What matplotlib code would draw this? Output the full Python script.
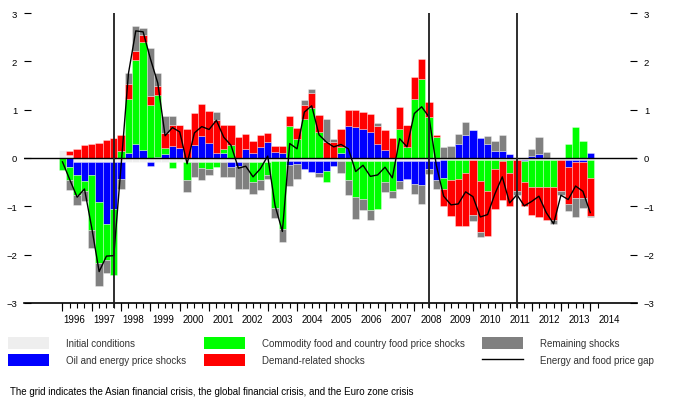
import numpy as np
import matplotlib.pyplot as plt
from matplotlib.patches import Patch
from matplotlib.lines import Line2D

plt.rcParams['font.family'] = ['Liberation Sans', 'DejaVu Sans']

# quarterly contributions, 1996Q1 .. 2014Q1
initial = [0.17, 0.07, -0.08, -0.08, -0.08, -0.08, -0.08, -0.08, -0.08, -0.08,
           -0.08, -0.08, -0.08, -0.08, -0.08, -0.08, -0.08, -0.08, -0.08, -0.08,
           -0.08, -0.08, -0.08, -0.08, -0.08, -0.08, -0.08, -0.08, -0.08, -0.07,
           -0.07, -0.07, -0.07, -0.07, -0.07, -0.07, -0.07, -0.07, -0.07, -0.07,
           -0.07, -0.07, -0.07, -0.07, -0.06, -0.06, -0.06, -0.06, -0.06, -0.06,
           -0.06, -0.06, -0.05, -0.05, -0.05, -0.05, -0.05, -0.05, -0.05, -0.05,
           -0.05, -0.04, -0.04, -0.04, -0.04, -0.04, -0.04, -0.04, -0.04, -0.04,
           -0.04, -0.04, -0.04]
oil = [0, -0.19, -0.28, -0.40, -0.28, -0.83, -1.28, -0.97, -0.35, 0.11,
       0.28, 0.17, -0.08, 0.03, 0.09, 0.24, 0.21, 0, 0.26, 0.46,
       0.31, 0.11, 0.11, -0.10, -0.08, 0.19, 0.11, 0.23, 0.34, 0.12,
       0.11, -0.08, -0.05, -0.15, -0.22, -0.23, -0.19, -0.10, 0.11, 0.67,
       0.65, 0.59, 0.54, 0.30, 0.16, 0, -0.42, -0.38, -0.47, -0.49,
       -0.16, -0.40, -0.36, 0, 0.30, 0.48, 0.57, 0.41, 0.30, 0.14,
       0.14, 0.09, 0, -0.03, 0.05, 0.09, 0, 0, 0, -0.15,
       -0.04, -0.04, 0.10]
food = [-0.25, -0.27, -0.41, -0.21, -1.12, -1.26, -0.76, -1.37, 0.14, 1.12,
        1.74, 2.23, 1.09, 1.27, 0.11, -0.13, 0, -0.37, 0, -0.12,
        -0.15, -0.10, 0.07, 0.26, 0, 0, -0.42, -0.38, -0.28, -0.97,
        -1.40, 0.66, 0.40, 0.80, 1.04, 0.54, -0.24, 0, 0.12, -0.39,
        -0.74, -0.77, -1.01, -0.98, -0.44, -0.63, 0.59, 0.23, 1.23, 1.63,
        0.85, 0.43, -0.23, -0.41, -0.38, -0.27, 0, -0.43, -0.64, -0.17,
        -0.02, -0.28, 0, -0.43, -0.56, -0.56, -0.56, -0.56, 0, 0.28,
        0.65, 0.36, -0.37]
demand = [0, 0.07, 0.18, 0.26, 0.28, 0.32, 0.37, 0.41, 0.34, 0.31,
          0.19, 0.15, 0.19, 0.19, 0.32, 0.44, 0.48, 0.61, 0.67, 0.66,
          0.66, 0.67, 0.51, 0.43, 0.43, 0.31, 0.25, 0.24, 0.18, 0.13,
          0.14, 0.20, 0.22, 0.30, 0.31, 0.36, 0.34, 0.34, 0.36, 0.32,
          0.35, 0.37, 0.37, 0.36, 0.41, 0.42, 0.47, 0.46, 0.45, 0.41,
          0.31, 0.04, -0.35, -0.74, -0.98, -1.09, -1.12, -1.05, -0.93, -0.83,
          -0.79, -0.67, -0.65, -0.49, -0.57, -0.62, -0.69, -0.69, -0.65, -0.76,
          -0.75, -0.75, -0.78]
remaining = [0, -0.21, -0.20, -0.19, -0.38, -0.47, -0.25, 0, -0.21, 0.21,
             0.52, 0.14, 1.00, 0.26, 0.35, 0.19, 0, -0.25, -0.32, -0.26,
             -0.13, 0.17, -0.31, -0.21, -0.48, -0.56, -0.24, -0.20, -0.08, -0.20,
             -0.27, -0.42, -0.31, 0.11, 0.07, -0.09, 0.47, 0.06, -0.23, -0.31,
             -0.45, -0.24, -0.21, 0.06, -0.21, -0.14, -0.17, 0, -0.21, -0.41,
             -0.11, -0.19, 0.23, 0.25, 0.19, 0.27, -0.14, -0.11, 0.16, 0.22,
             0.33, 0, -0.07, 0, 0.14, 0.34, 0.12, -0.07, -0.08, -0.15,
             -0.39, -0.20, -0.03]
price_gap = [-0.08, -0.45, -0.81, -0.64, -1.45, -2.35, -2.03, -2.02, -0.15, 1.75,
             2.63, 2.61, 2.05, 1.55, 0.46, 0.63, 0.54, -0.12, 0.52, 0.65,
             0.59, 0.78, 0.43, 0.26, -0.21, -0.17, -0.39, -0.22, 0.04, -0.98,
             -1.52, 0.30, 0.19, 0.95, 1.08, 0.48, 0.33, 0.23, 0.28, 0.19,
             -0.28, -0.15, -0.38, -0.35, -0.19, -0.41, 0.40, 0.23, 0.92, 1.06,
             0.85, -0.15, -0.79, -0.97, -0.95, -0.70, -0.80, -1.22, -1.17, -0.74,
             -0.39, -0.93, -0.76, -0.99, -0.90, -0.79, -1.13, -1.36, -0.77, -0.86,
             -0.58, -0.69, -1.13]
years = list(range(1996, 2015))
crisis_quarters = [7, 50, 62]  # 1997Q4, 2008Q3, 2011Q3

series = [
    (initial, '#eeeeee', 'Initial conditions'),
    (oil, '#0000ff', 'Oil and energy price shocks'),
    (food, '#00ff00', 'Commodity food and country food price shocks'),
    (demand, '#ff0000', 'Demand-related shocks'),
    (remaining, '#808080', 'Remaining shocks'),
]

fig = plt.figure(figsize=(6.73, 4.06), dpi=100)
ax = fig.add_axes([24 / 673, 1 - 304 / 406, 613 / 673, 290 / 406])

x = np.arange(len(price_gap))
up = np.zeros(len(x))
down = np.zeros(len(x))
for vals, col, lab in series:
    v = np.array(vals, dtype=float)
    base = np.where(v >= 0, up, down)
    ax.bar(x, v, bottom=base, width=1.0, color=col,
           edgecolor=(1, 1, 1, 0.45), linewidth=0.5, zorder=2)
    up += np.clip(v, 0, None)
    down += np.clip(v, None, 0)

ax.plot(x, price_gap, color='black', lw=1.0, zorder=4)
ax.axhline(0, color='black', lw=1.0, zorder=3)
ax.vlines(crisis_quarters, -3.1, 3, colors='#1e1e1e', lw=1.3, zorder=5, clip_on=False)

ax.set_xlim(-5.25, 78.38)
ax.set_ylim(-3, 3)
for s in ['left', 'right', 'top']:
    ax.spines[s].set_visible(False)
ax.spines['bottom'].set_linewidth(1.2)

ax.set_yticks(range(-3, 4))
ax.tick_params(axis='y', direction='in', length=5, width=0.8, left=True, right=True,
               labelleft=True, labelright=True, labelsize=6.8, pad=5)

# quarter marks, longer marks at year starts, year labels between
ax.set_xticks(np.arange(0, 74), minor=True)
ax.set_xticks([1.6 + 4.055 * k for k in range(len(years))])
ax.set_xticklabels([str(y) for y in years])
ax.tick_params(axis='x', which='minor', direction='out', length=3.5, width=0.8)
ax.tick_params(axis='x', which='major', length=0, labelsize=7, pad=8)
sec = ax.secondary_xaxis('bottom')
sec.set_xticks(np.arange(0, 73, 4))
sec.set_xticklabels([])
sec.tick_params(direction='out', length=6, width=0.8)
sec.spines['bottom'].set_visible(False)

handles = [Patch(facecolor=c, edgecolor='none', label=l) for _, c, l in series]
handles.append(Line2D([], [], color='black', lw=1.0, label='Energy and food price gap'))
fig.legend(handles=handles, ncol=3, loc='upper left',
           bbox_to_anchor=(7.8 / 673, 1 - 338 / 406), frameon=False,
           fontsize=7, labelcolor='#333333', handlelength=4.2, handleheight=1.55,
           handletextpad=1.75, columnspacing=1.85, labelspacing=0.5,
           borderpad=0, borderaxespad=0)

fig.text(9.6 / 673, 1 - 392 / 406,
         'The grid indicates the Asian financial crisis, the global financial crisis, and the Euro zone crisis',
         fontsize=7, va='center', ha='left', color='black')

fig.savefig('out.png', dpi=100)
